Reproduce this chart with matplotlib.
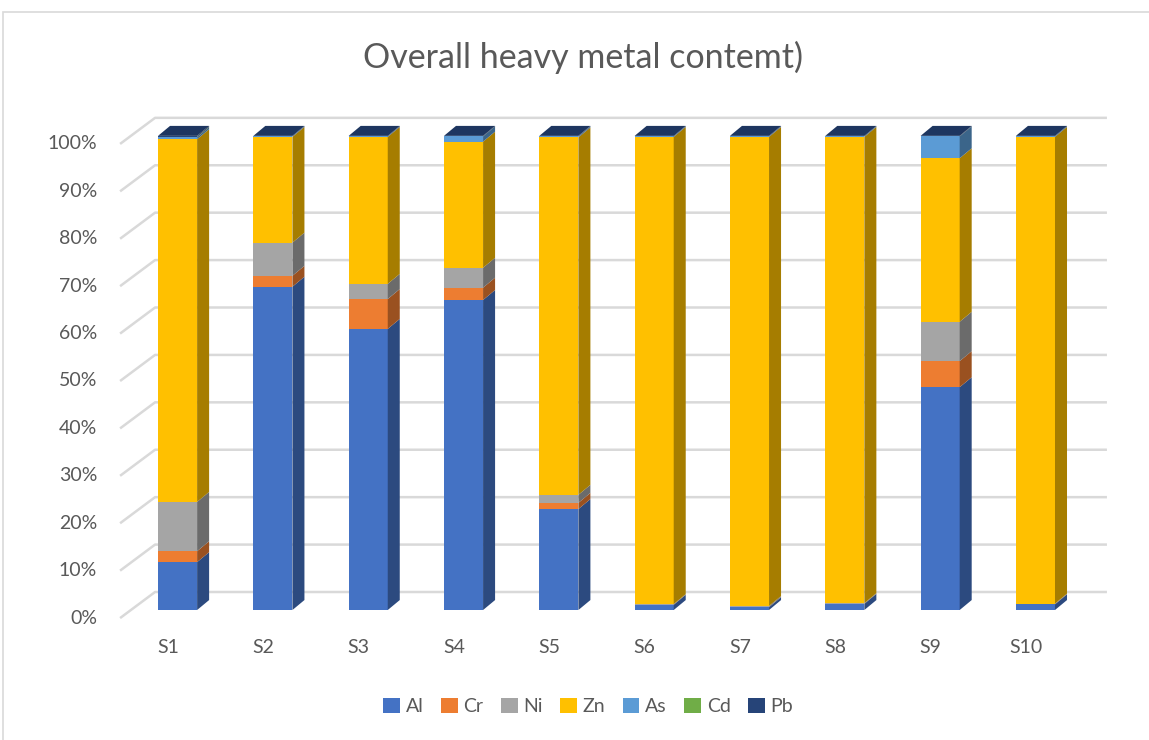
import numpy as np
import matplotlib.pyplot as plt
from matplotlib.patches import Polygon, Rectangle
from matplotlib.colors import to_rgb

plt.rcParams['font.family'] = ['Lato', 'DejaVu Sans']

# Data (share of each metal, %)
samples = ["S1", "S2", "S3", "S4", "S5", "S6", "S7", "S8", "S9", "S10"]
metals = ["Al", "Cr", "Ni", "Zn", "As", "Cd", "Pb"]
al = [10.1, 68.2, 59.3, 65.4, 21.3, 1.1, 0.6, 1.3, 47.0, 1.2]
cr = [2.3, 2.3, 6.3, 2.6, 1.3, 0.05, 0.05, 0.05, 5.5, 0.05]
ni = [10.4, 7.0, 3.2, 4.2, 1.7, 0.1, 0.2, 0.1, 8.3, 0.1]
zn = [76.5, 22.3, 31.0, 26.6, 75.4, 98.5, 98.9, 98.3, 34.5, 98.4]
as_ = [0.4, 0.1, 0.1, 1.1, 0.2, 0.1, 0.1, 0.1, 4.6, 0.1]
cd = [0.1, 0.02, 0.02, 0.02, 0.02, 0.02, 0.02, 0.02, 0.02, 0.02]
pb = [0.2, 0.1, 0.1, 0.1, 0.1, 0.1, 0.1, 0.1, 0.1, 0.1]
colors = ["#4472C4", "#ED7D31", "#A5A5A5", "#FFC000", "#5B9BD5", "#70AD47", "#264478"]

vals = np.array([al, cr, ni, zn, as_, cd, pb], dtype=float)
vals = vals / vals.sum(axis=0)

def shade(c, f):
    return tuple(min(1, v * f) for v in to_rgb(c))

fig = plt.figure(figsize=(11.49, 7.40), dpi=100)
fig.patches.append(Rectangle((0.003, -0.1), 1.2, 1.084, transform=fig.transFigure,
                             fill=False, edgecolor="#D9D9D9", linewidth=1.2))
ax = fig.add_axes([0.1036, 0.1622, 0.8598, 0.6824])
ax.set_xlim(-0.614, 9.75)
ax.set_ylim(-0.021, 1.044)
ax.axis("off")

# pseudo-3D geometry
width = 0.41
dx, dy = 0.126, 0.021          # bar depth offset
wall_dy = 0.038                 # back wall offset
front_dy = -0.017               # front edge offset
x_front, x_back, x_end = -0.603, -0.236, 9.75

grid_c = "#D9D9D9"
for t in np.arange(0, 1.01, 0.1):
    ax.plot([x_front, x_back, x_end], [t + front_dy, t + wall_dy, t + wall_dy],
            color=grid_c, lw=1.8, zorder=1, solid_capstyle="butt")
    ax.text(-0.844, t + front_dy, f"{t * 100:.0f}%", ha="right", va="center",
            fontsize=14, color="#595959")

x = np.arange(len(samples))
bottom = np.zeros(len(samples))
for k, m in enumerate(metals):
    v = vals[k]
    ax.bar(x, v, width, bottom=bottom, color=colors[k], zorder=3, linewidth=0, label=m)
    for i in range(len(samples)):
        if v[i] <= 0:
            continue
        r = x[i] + width / 2
        b, t = bottom[i], bottom[i] + v[i]
        ax.add_patch(Polygon([(r, b), (r + dx, b + dy), (r + dx, t + dy), (r, t)],
                             closed=True, facecolor=shade(colors[k], 0.65),
                             edgecolor="none", zorder=3))
        if k == len(metals) - 1:
            lft = x[i] - width / 2
            ax.add_patch(Polygon([(lft, t), (r, t), (r + dx, t + dy), (lft + dx, t + dy)],
                                 closed=True, facecolor=shade(colors[k], 0.8),
                                 edgecolor="none", zorder=3))
    bottom += v

for i, s in enumerate(samples):
    ax.text(x[i] - 0.1, -0.08, s, ha="center", va="center", fontsize=14, color="#595959")

fig.text(0.507, 0.922, "Overall heavy metal contemt)", ha="center", va="center",
         fontsize=24.5, color="#595959")

h, l = ax.get_legend_handles_labels()
fig.legend(h, l, loc="center", bbox_to_anchor=(0.512, 0.045), ncol=7, frameon=False,
           fontsize=14, handlelength=0.85, handleheight=0.85, handletextpad=0.3,
           columnspacing=0.9, labelcolor="#595959")

fig.savefig("out.png", dpi=100)
